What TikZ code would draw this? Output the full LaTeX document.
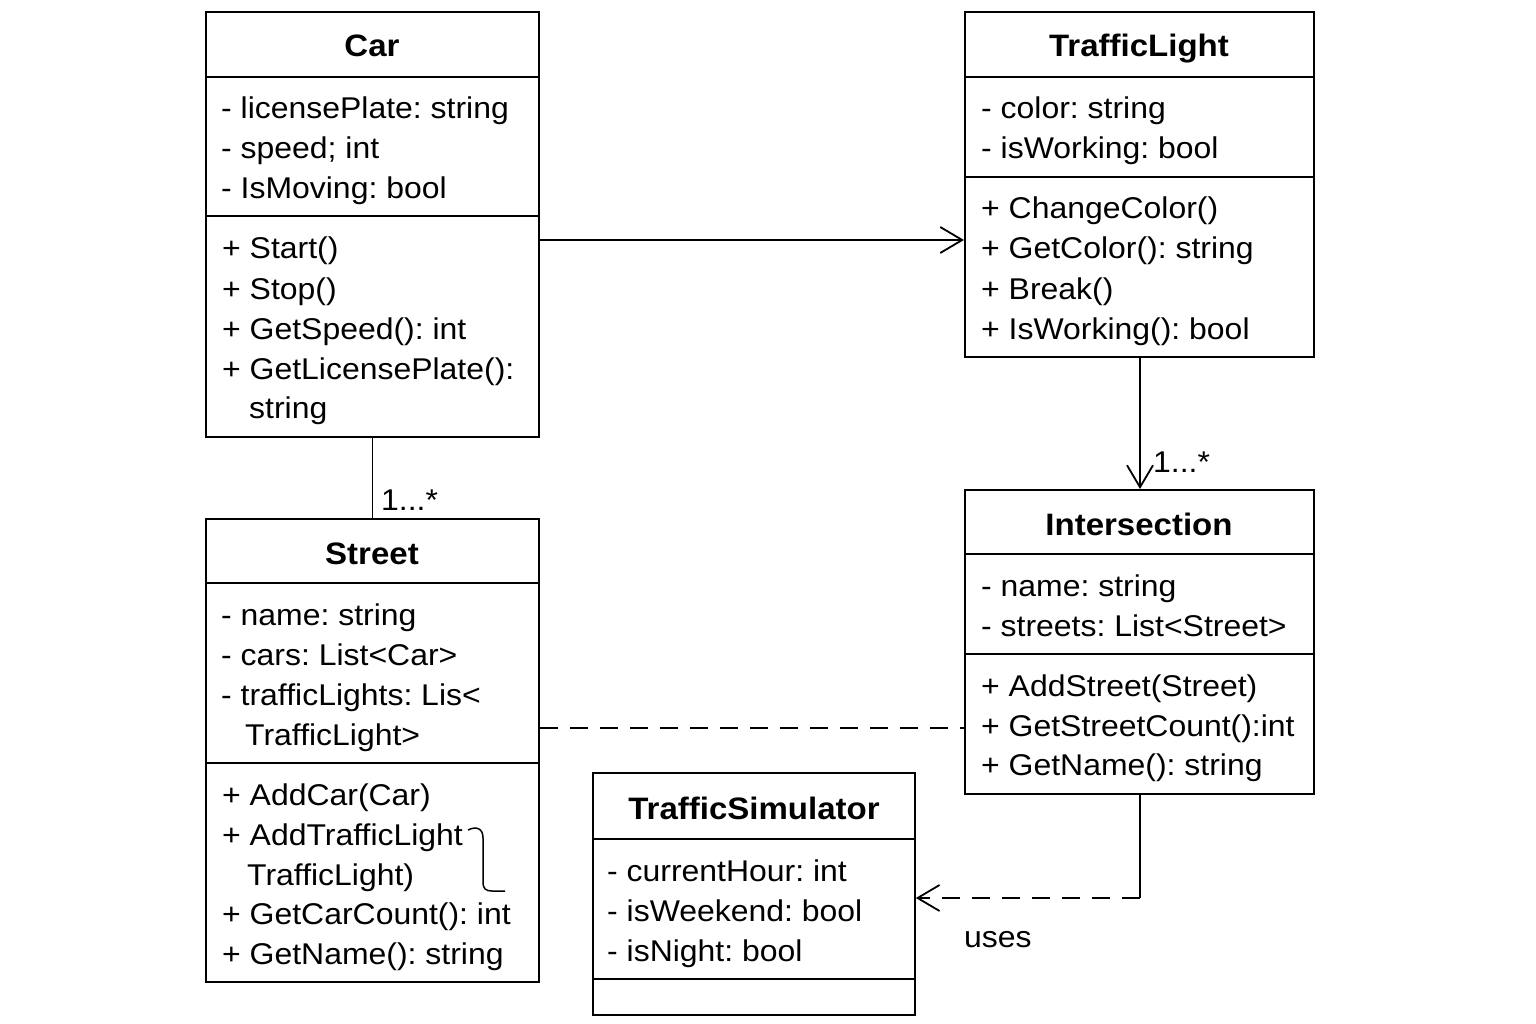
\documentclass[tikz,border=0pt]{standalone}
\usepackage{fontspec}
\setmainfont{Liberation Sans}[FakeStretch=1.065]
\frenchspacing
\usetikzlibrary{arrows.meta}
\begin{document}
\begin{tikzpicture}[x=1pt,y=-1pt,
  box/.style={draw, line width=1.8pt, anchor=north west, inner sep=0pt},
  txt/.style={anchor=base west, inner sep=0pt, font=\fontsize{30}{31}\selectfont},
  ttl/.style={anchor=base, inner sep=0pt, font=\fontsize{31}{32}\selectfont\bfseries},
  conn/.style={line width=1.8pt},
  tipo/.style={-{Straight Barb[length=22pt,width=26pt,line width=1.8pt]}},
  dsh/.style={dash pattern=on 18pt off 12pt}]
\useasboundingbox (0,0) rectangle (1536,1024);
% ---------- Car ----------
\node[box, minimum width=333pt, minimum height=425pt] (car) at (205,11) {};
\draw[conn] (car.west |- 0,77) -- (car.east |- 0,77);
\draw[conn] (car.west |- 0,216) -- (car.east |- 0,216);
\node[ttl] (cart) at (372,57) {Car};
\node[txt] (ca1) at (221,119) {- licensePlate: string};
\node[txt] (ca2) at (221,159) {- speed; int};
\node[txt] (ca3) at (221,199) {- IsMoving: bool};
\node[txt] (cm1) at (222,259) {+ Start()};
\node[txt] (cm2) at (222,299) {+ Stop()};
\node[txt] (cm3) at (222,339) {+ GetSpeed(): int};
\node[txt] (cm4) at (222,379) {+ GetLicensePlate():};
\node[txt] (cm5) at (249,418) {string};
% ---------- TrafficLight ----------
\node[box, minimum width=349pt, minimum height=345pt] (tl) at (964,11) {};
\draw[conn] (tl.west |- 0,77) -- (tl.east |- 0,77);
\draw[conn] (tl.west |- 0,177) -- (tl.east |- 0,177);
\node[ttl] (tlt) at (1139,57) {TrafficLight};
\node[txt] (ta1) at (981,119) {- color: string};
\node[txt] (ta2) at (981,159) {- isWorking: bool};
\node[txt] (tm1) at (981,219) {+ ChangeColor()};
\node[txt] (tm2) at (981,259) {+ GetColor(): string};
\node[txt] (tm3) at (981,299) {+ Break()};
\node[txt] (tm4) at (981,339) {+ IsWorking(): bool};
% ---------- Street ----------
\node[box, minimum width=333pt, minimum height=463pt] (st) at (205,518) {};
\draw[conn] (st.west |- 0,583) -- (st.east |- 0,583);
\draw[conn] (st.west |- 0,763) -- (st.east |- 0,763);
\node[ttl] (stt) at (372,564) {Street};
\node[txt] (sa1) at (221,625) {- name: string};
\node[txt] (sa2) at (221,665) {- cars: List<Car>};
\node[txt] (sa3) at (221,705) {- trafficLights: Lis<};
\node[txt] (sa4) at (245,745) {TrafficLight>};
\node[txt] (sm1) at (222,805) {+ AddCar(Car)};
\node[txt] (sm2) at (222,845) {+ AddTrafficLight};
\node[txt] (sm3) at (247,885) {TrafficLight)};
\node[txt] (sm4) at (222,924) {+ GetCarCount(): int};
\node[txt] (sm5) at (222,964) {+ GetName(): string};
\coordinate (brA) at (468,830);
\coordinate (brB) at (505,891);
\draw[line width=1.5pt] (brA) .. controls (476,826) and (483,828) .. (483,838)
  -- (483,882) .. controls (483,889) and (486,891) .. (492,891) -- (brB);
% ---------- Intersection ----------
\node[box, minimum width=349pt, minimum height=304pt] (in) at (964,489) {};
\draw[conn] (in.west |- 0,554) -- (in.east |- 0,554);
\draw[conn] (in.west |- 0,654) -- (in.east |- 0,654);
\node[ttl] (int) at (1139,535) {Intersection};
\node[txt] (ia1) at (981,596) {- name: string};
\node[txt] (ia2) at (981,636) {- streets: List<Street>};
\node[txt] (im1) at (981,696) {+ AddStreet(Street)};
\node[txt] (im2) at (981,736) {+ GetStreetCount():int};
\node[txt] (im3) at (981,775) {+ GetName(): string};
% ---------- TrafficSimulator ----------
\node[box, minimum width=322pt, minimum height=242pt] (sim) at (592,772) {};
\draw[conn] (sim.west |- 0,839) -- (sim.east |- 0,839);
\draw[conn] (sim.west |- 0,979) -- (sim.east |- 0,979);
\node[ttl] (simt) at (754,819) {TrafficSimulator};
\node[txt] (sia1) at (607,881) {- currentHour: int};
\node[txt] (sia2) at (607,921) {- isWeekend: bool};
\node[txt] (sia3) at (607,961) {- isNight: bool};
% ---------- Connectors ----------
\draw[conn, tipo] (car.east |- 0,240) -- (tl.west |- 0,240);
\draw[conn] (car.south) -- (st.north);
\node[txt] (l1) at (381,510) {1...*};
\draw[conn, tipo] (tl.south -| 1140,0) -- (in.north -| 1140,0);
\node[txt] (l2) at (1153,472) {1...*};
\draw[conn, dsh] (st.east |- 0,728) -- (in.west |- 0,728);
\coordinate (corner) at (1140,898);
\draw[conn] (in.south -| 1140,0) -- (corner);
\draw[conn, dsh, tipo] (corner) -- (sim.east |- 0,898);
\node[txt] (uses) at (964,947) {uses};
\end{tikzpicture}
\end{document}
